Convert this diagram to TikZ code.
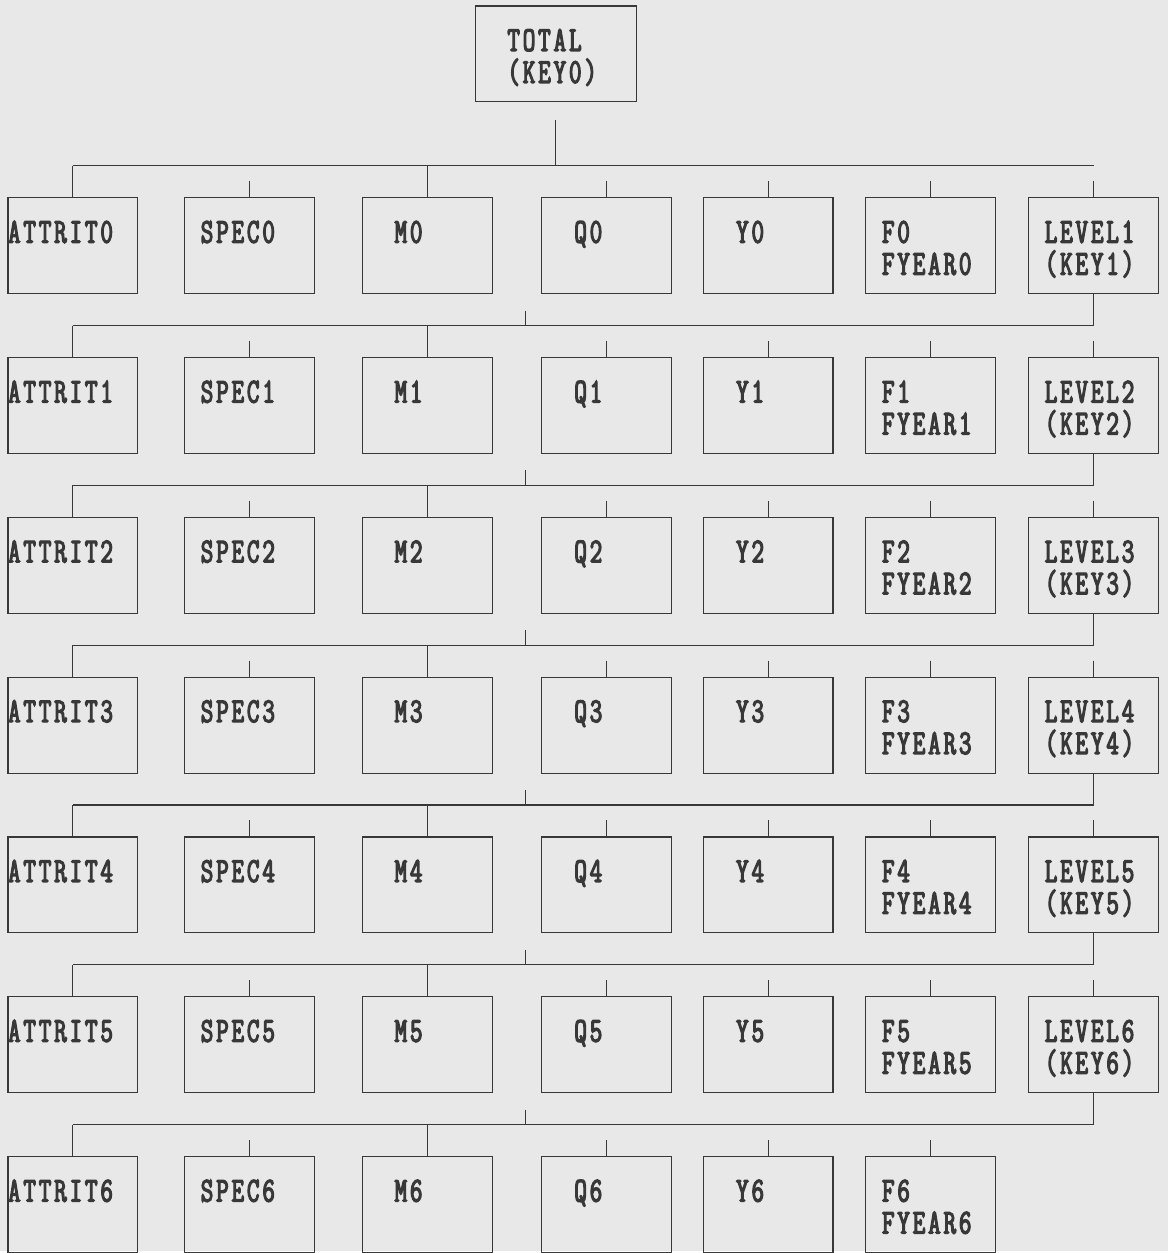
\documentclass[tikz,border=0pt]{standalone}
\usepackage{fontspec}
\usetikzlibrary{calc}

\newfontfamily\chartfont[FakeStretch=0.7, LetterSpace=8, FakeBold=3.5]{Latin Modern Mono}
\definecolor{paper}{gray}{0.91}
\definecolor{ink}{gray}{0.22}

\begin{document}
\begin{tikzpicture}[x=1pt, y=-1pt, line width=1.1pt, draw=ink,
    box/.style={draw=ink, text=ink, inner sep=0pt, minimum width=130pt,
        text width=#1, align=left, text height=45pt, text depth=51pt,
        font=\chartfont\fontsize{35}{32}\selectfont}]

    % paper
    \fill[paper] (0,0) rectangle (1169,1253);

    % TOTAL(KEY0)
    \node[box=97pt, minimum width=161pt] (T) at (556.5,54) {TOTAL\\(KEY0)};

    % rows 0..6: ATTRIT, SPEC, M, Q, Y, F, LEVEL
    \foreach \r in {0,...,6} {
        \pgfmathsetmacro\yc{246+160*\r}
        \pgfmathtruncatemacro\n{\r+1}
        \pgfmathtruncatemacro\p{\r-1}
        \coordinate (b\r) at (0,\yc-80);

        \node[box=130pt] (A\r) at (73,\yc)  {ATTRIT\r};
        \node[box=98pt]  (S\r) at (250,\yc) {SPEC\r};
        \node[box=66pt]  (M\r) at (428,\yc) {M\r};
        \node[box=64pt]  (Q\r) at (607,\yc) {Q\r};
        \node[box=64pt]  (Y\r) at (769,\yc) {Y\r};
        \node[box=98pt]  (F\r) at (932,\yc) {F\r\\FYEAR\r};
        \ifnum\r<6
            \node[box=98pt] (L\r) at (1095,\yc) {LEVEL\n\\(KEY\n)};
            \draw ($(L\r.north)+(0,-16)$) -- (L\r.north);
        \fi

        % stems from the bus
        \draw (A\r.north |- b\r) -- (A\r.north);
        \draw (M\r.north |- b\r) -- (M\r.north);

        % short ticks
        \foreach \c in {S,Q,Y,F}
            \draw ($(\c\r.north)+(0,-16)$) -- (\c\r.north);

        % bus from the LEVEL box above
        \ifnum\r>0
            \draw (L\p.south) -- (L\p.south |- b\r) -- (A\r.north |- b\r);
            \draw ($(T.south |- b\r)+(-30,-15)$) -- ($(T.south |- b\r)+(-30,0)$);
        \fi
    }

    % top bus
    \draw ($(T.south)+(0,18)$) -- (T.south |- b0);
    \draw (A0.north |- b0) -- (L0.north |- b0);

\end{tikzpicture}
\end{document}
